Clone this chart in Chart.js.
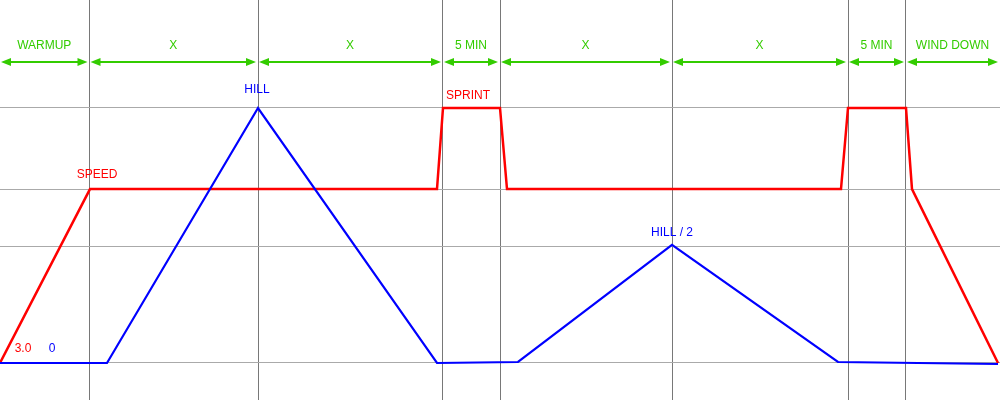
<!DOCTYPE html>
<html>
<head>
<meta charset="utf-8">
<script src="https://cdn.jsdelivr.net/npm/chart.js@4.4.1/dist/chart.umd.min.js"></script>
<style>
  body { margin: 0; background: #fff; }
  #wrap { width: 1000px; height: 400px; }
</style>
</head>
<body>
<div id="wrap"><canvas id="myChart" width="1000" height="400"></canvas></div>
<script>
// time axis (arbitrary units, 0..100) and intensity levels
const segmentEdges = [0, 8.95, 25.8, 44.3, 50, 67.2, 84.8, 90.6, 100];
const segmentLabels = ['WARMUP', 'X', 'X', '5 MIN', 'X', 'X', '5 MIN', 'WIND DOWN'];
const levels = [0, 4.55, 6.82, 10];

const speedTime = [0, 9, 43.7, 44.3, 50, 50.7, 84.1, 84.8, 90.6, 91.2, 99.8];
const speedLevel = [0, 6.82, 6.82, 10, 10, 6.82, 6.82, 10, 10, 6.82, 0];

const hillTime = [0, 10.7, 25.8, 43.7, 51.8, 67.2, 83.8, 99.8];
const hillLevel = [0, 0, 10, 0, 0.04, 4.63, 0.04, -0.04];

const noteText = ['SPEED', 'HILL', 'SPRINT', 'HILL / 2', '3.0', '0'];
const noteTime = [9.7, 25.7, 46.8, 67.2, 2.3, 5.2];
const noteLevel = [7.37, 10.7, 10.47, 5.12, 0.55, 0.55];
const noteColor = ['#ff0000', '#0000ff', '#ff0000', '#0000ff', '#ff0000', '#0000ff'];

const green = 'rgb(51,204,0)';

const toPoints = (xs, ys) => xs.map((x, i) => ({ x: x, y: ys[i] }));

const overlay = {
  id: 'overlay',
  afterDatasetsDraw(chart) {
    const c = chart.ctx;
    const xs = chart.scales.x, ys = chart.scales.y;
    c.save();
    c.font = '12px "Liberation Sans", Arial, sans-serif';
    c.textAlign = 'center';
    c.textBaseline = 'middle';
    // segment arrows
    const ay = 62;
    for (let i = 0; i < segmentLabels.length; i++) {
      const x0 = xs.getPixelForValue(segmentEdges[i]) + 1;
      const x1 = xs.getPixelForValue(segmentEdges[i + 1]) - 2;
      c.strokeStyle = green;
      c.fillStyle = green;
      c.lineWidth = 2;
      c.beginPath();
      c.moveTo(x0 + 4, ay);
      c.lineTo(x1 - 4, ay);
      c.stroke();
      c.beginPath();
      c.moveTo(x0, ay); c.lineTo(x0 + 10, ay - 4); c.lineTo(x0 + 10, ay + 4); c.closePath();
      c.fill();
      c.beginPath();
      c.moveTo(x1, ay); c.lineTo(x1 - 10, ay - 4); c.lineTo(x1 - 10, ay + 4); c.closePath();
      c.fill();
      c.fillText(segmentLabels[i], (x0 + x1) / 2, 46);
    }
    // notes
    noteText.forEach((t, i) => {
      c.fillStyle = noteColor[i];
      c.fillText(t, xs.getPixelForValue(noteTime[i]), ys.getPixelForValue(noteLevel[i]));
    });
    c.restore();
  }
};

new Chart(document.getElementById('myChart'), {
  type: 'line',
  data: {
    datasets: [{
      label: 'Hill',
      data: toPoints(hillTime, hillLevel),
      borderColor: '#0000ff',
      borderWidth: 2.2,
      pointRadius: 0,
      tension: 0
    }, {
      label: 'Speed',
      data: toPoints(speedTime, speedLevel),
      borderColor: '#ff0000',
      borderWidth: 2.5,
      pointRadius: 0,
      tension: 0
    }]
  },
  options: {
    responsive: false,
    animation: false,
    layout: { padding: 0 },
    plugins: { legend: { display: false }, tooltip: { enabled: false } },
    scales: {
      x: {
        type: 'linear',
        min: 0,
        max: 100,
        afterBuildTicks: (s) => { s.ticks = segmentEdges.slice(1, -1).map(v => ({ value: v })); },
        ticks: { display: false },
        grid: { color: 'rgb(120,120,120)', lineWidth: 1, drawTicks: false },
        border: { display: false }
      },
      y: {
        type: 'linear',
        min: -1.451,
        max: 14.235,
        afterBuildTicks: (s) => { s.ticks = levels.map(v => ({ value: v })); },
        ticks: { display: false },
        grid: { color: 'rgb(170,170,170)', lineWidth: 1, drawTicks: false },
        border: { display: false }
      }
    }
  },
  plugins: [overlay]
});
</script>
</body>
</html>
